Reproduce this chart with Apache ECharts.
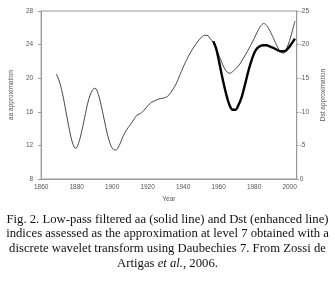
<!DOCTYPE html>
<html>
<head>
<meta charset="utf-8">
<script src="https://cdn.jsdelivr.net/npm/echarts@6/dist/echarts.min.js"></script>
<style>
html,body{margin:0;padding:0;background:#fff;}
#c{width:335px;height:292px;}
</style>
</head>
<body>
<div id="c"></div>
<script>
// aa index approximation (left axis), [year, value]
var aaYears = [1868.5,1870,1872,1874,1876,1878,1879.5,1881,1883,1885,1887,1889,1890.3,1892,1894,1896,1898,1900,1902,1904,1906,1908,1910,1912,1914,1916,1918,1920,1922,1924,1926,1928,1930,1932,1934,1936,1938,1940,1942,1944,1946,1948,1950,1952,1953.5,1955,1957,1959,1961,1963,1965,1966.5,1968,1970,1972,1974,1976,1978,1980,1982,1984,1985.5,1987,1989,1991,1993,1995,1996.5,1998,2000,2002,2003];
var aaValues = [20.5,19.8,18.2,16.0,13.8,12.1,11.65,12.2,13.8,15.8,17.6,18.6,18.8,18.2,16.6,14.6,12.8,11.7,11.45,12.0,13.0,13.8,14.4,15.0,15.6,15.8,16.2,16.7,17.1,17.3,17.5,17.6,17.7,18.0,18.6,19.3,20.3,21.3,22.2,23.0,23.7,24.3,24.8,25.1,25.1,24.8,24.2,23.3,22.3,21.3,20.7,20.6,20.8,21.2,21.7,22.4,23.1,23.9,24.7,25.6,26.3,26.5,26.3,25.6,24.7,23.8,23.1,23.0,23.4,24.5,26.0,26.8];
// Dst index approximation (right axis, inverted)
var dstYears = [1957,1958.5,1960,1962,1964,1966,1968,1969.5,1971,1973,1975,1977,1979,1981,1983,1985,1987,1989,1991,1993,1995,1997,1999,2001,2003];
var dstValues = [-20.5,-19.5,-17.8,-15.2,-12.9,-11.1,-10.3,-10.3,-10.9,-12.2,-14.2,-16.3,-18.0,-19.2,-19.7,-19.9,-19.9,-19.7,-19.5,-19.2,-19.0,-19.0,-19.4,-20.1,-20.9];
var captionLines = [
  'Fig. 2. Low-pass filtered aa (solid line) and Dst (enhanced line)',
  'indices assessed as the approximation at level 7 obtained with a',
  'discrete wavelet transform using Daubechies 7. From Zossi de',
  'Artigas {i|et al.}, 2006.'
];

function pairs(xs, ys){ return xs.map(function(x,i){ return [x, ys[i]]; }); }

var serif = 'Liberation Serif, Times New Roman, serif';
var sans = 'Liberation Sans, Arial, sans-serif';
var labelStyle = { color:'#555', fontSize:6.5, fontFamily:sans };
var chart = echarts.init(document.getElementById('c'), null, {renderer:'canvas'});
chart.setOption({
  animation:false,
  backgroundColor:'#fff',
  graphic:[{
    type:'text', x:167.5, y:212,
    style:{
      text: captionLines.join('\n'),
      align:'center', verticalAlign:'top',
      font:'12.7px ' + serif, fill:'#111', lineHeight:14.7,
      rich:{ i:{ fontStyle:'italic', fontFamily:serif, fontSize:12.7, fill:'#111', lineHeight:14.7 } }
    }
  }],
  grid:{ left:27, right:30, top:11, bottom:113, show:true, borderColor:'#999', borderWidth:1 },
  xAxis:{
    type:'value', min:1860, max:2004, interval:20,
    name:'Year', nameLocation:'middle', nameGap:16,
    nameTextStyle:{ color:'#555', fontSize:6.5, fontFamily:sans },
    axisLine:{ show:true, lineStyle:{ color:'#999' } },
    axisTick:{ show:false },
    splitLine:{ show:false },
    axisLabel:Object.assign({ margin:5, formatter:function(v){ return v%20===0 ? String(v) : ''; } }, labelStyle)
  },
  yAxis:[{
    type:'value', min:8, max:28, interval:4, position:'left',
    name:'aa approximation', nameLocation:'middle', nameGap:15, nameRotate:90,
    nameTextStyle:{ color:'#555', fontSize:6.5, fontFamily:sans },
    axisLine:{ show:true, lineStyle:{ color:'#999' } },
    axisTick:{ show:true, length:3, lineStyle:{ color:'#999' } },
    splitLine:{ show:false },
    axisLabel:Object.assign({ margin:8 }, labelStyle)
  },{
    type:'value', min:-25, max:0, interval:5, inverse:true, position:'right',
    name:'Dst approximation', nameLocation:'middle', nameGap:21, nameRotate:90,
    nameTextStyle:{ color:'#555', fontSize:6.5, fontFamily:sans },
    axisLine:{ show:true, lineStyle:{ color:'#999' } },
    axisTick:{ show:true, length:2, lineStyle:{ color:'#999' } },
    splitLine:{ show:false },
    axisLabel:Object.assign({ margin:3 }, labelStyle)
  }],
  series:[{
    type:'line', yAxisIndex:0, data:pairs(aaYears, aaValues), smooth:0.4,
    showSymbol:false, lineStyle:{ color:'#333', width:0.9 }
  },{
    type:'line', yAxisIndex:1, data:pairs(dstYears, dstValues), smooth:0.4,
    showSymbol:false, lineStyle:{ color:'#000', width:2.4 }
  }]
});
</script>
</body>
</html>
